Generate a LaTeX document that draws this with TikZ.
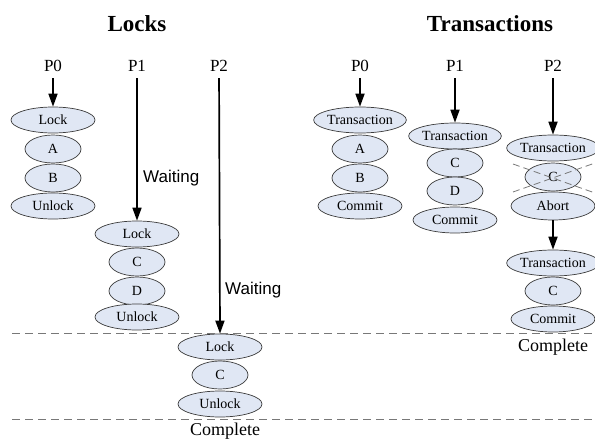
\documentclass[tikz,border=0pt]{standalone}
\usepackage{fontspec}
\setmainfont{Liberation Serif}
\newfontfamily\waitfont{Liberation Sans}
\usetikzlibrary{shapes.geometric,arrows.meta}
\definecolor{ellfill}{RGB}{224,231,244}
\definecolor{ellline}{RGB}{60,60,60}
\definecolor{sepline}{RGB}{120,120,120}
\begin{document}
\begin{tikzpicture}[x=1pt,y=-1pt,
  title/.style={font=\fontsize{23}{23}\selectfont\bfseries},
  plabel/.style={font=\fontsize{17}{17}\selectfont,inner sep=0pt,text height=12pt,text depth=0pt},
  oval/.style={ellipse,draw=ellline,line width=0.7pt,fill=ellfill,inner sep=0pt,
    font=\fontsize{14}{14}\selectfont},
  wideoval/.style={oval,minimum width=84pt,minimum height=26pt},
  smalloval/.style={oval,minimum width=56pt,minimum height=28pt},
  flow/.style={line width=1.7pt,-{Triangle[width=9pt,length=13pt]},shorten <=7pt},
  waitlabel/.style={font=\waitfont\fontsize{17}{17}\selectfont,anchor=west,inner sep=0pt},
  donelabel/.style={font=\fontsize{18}{18}\selectfont,inner sep=0pt},
  sep/.style={sepline,line width=0.9pt,dash pattern=on 8pt off 5pt},
  cross/.style={sepline,line width=0.8pt,dash pattern=on 7pt off 4pt}]
\useasboundingbox (0,0) rectangle (595,439);

% Titles
\node[title] (tlocks) at (137,24) {Locks};
\node[title] (ttrans) at (490,24) {Transactions};

% ---------------- Locks ----------------
\node[plabel] (lp0) at (53,65) {P0};
\node[plabel] (lp1) at (137,65) {P1};
\node[plabel] (lp2) at (219,65) {P2};

% P0
\node[wideoval]  (l0a) at (53,120) {Lock};
\node[smalloval] (l0b) at (53,149) {A};
\node[smalloval] (l0c) at (53,178) {B};
\node[wideoval]  (l0d) at (53,206) {Unlock};

% P1
\node[wideoval]  (l1a) at (137,234) {Lock};
\node[smalloval] (l1b) at (137,262) {C};
\node[smalloval] (l1c) at (137,291) {D};
\node[wideoval]  (l1d) at (137,317) {Unlock};

% P2
\node[wideoval]  (l2a) at (220,347) {Lock};
\node[smalloval] (l2b) at (220,375) {C};
\node[wideoval]  (l2c) at (220,404) {Unlock};

\draw[flow] (lp0) -- (l0a.north);
\draw[flow] (lp1) -- (l1a.north);
\draw[flow] (lp2) -- (l2a.north);

\node[waitlabel] (w1) at (143,178) {Waiting};
\node[waitlabel] (w2) at (225,290) {Waiting};

% separators
\coordinate (s1a) at (12,333);
\coordinate (s1b) at (592,333);
\coordinate (s2a) at (12,419);
\coordinate (s2b) at (592,419);
\draw[sep] (s1a) -- (s1b);
\draw[sep] (s2a) -- (s2b);

\node[donelabel] (done1) at (225,431) {Complete};

% ---------------- Transactions ----------------
\node[plabel] (tp0) at (360,65) {P0};
\node[plabel] (tp1) at (455,65) {P1};
\node[plabel] (tp2) at (553,65) {P2};

% P0
\node[wideoval]  (t0a) at (360,120) {Transaction};
\node[smalloval] (t0b) at (360,149) {A};
\node[smalloval] (t0c) at (360,178) {B};
\node[wideoval]  (t0d) at (360,206) {Commit};

% P1
\node[wideoval]  (t1a) at (455,136) {Transaction};
\node[smalloval] (t1b) at (455,163) {C};
\node[smalloval] (t1c) at (455,191) {D};
\node[wideoval]  (t1d) at (455,220) {Commit};

% P2, first attempt (aborted)
\node[wideoval]  (t2a) at (553,148) {Transaction};
\node[smalloval] (t2b) at (553,177) {C};
\node[wideoval,minimum height=28pt] (t2c) at (553,206) {Abort};
\draw[cross] ([shift={(-40,-13)}]t2b.center) -- ([shift={(42,16)}]t2b.center);
\draw[cross] ([shift={(-40,15)}]t2b.center) -- ([shift={(42,-14)}]t2b.center);

% P2, retry
\node[wideoval]  (t2d) at (553,263) {Transaction};
\node[smalloval] (t2e) at (553,291) {C};
\node[wideoval]  (t2f) at (553,319) {Commit};

\draw[flow] (tp0) -- (t0a.north);
\draw[flow] (tp1) -- (t1a.north);
\draw[flow] (tp2) -- (t2a.north);
\draw[flow,shorten <=0pt] (t2c.south) -- (t2d.north);

\node[donelabel] (done2) at (553,347) {Complete};
\end{tikzpicture}
\end{document}
